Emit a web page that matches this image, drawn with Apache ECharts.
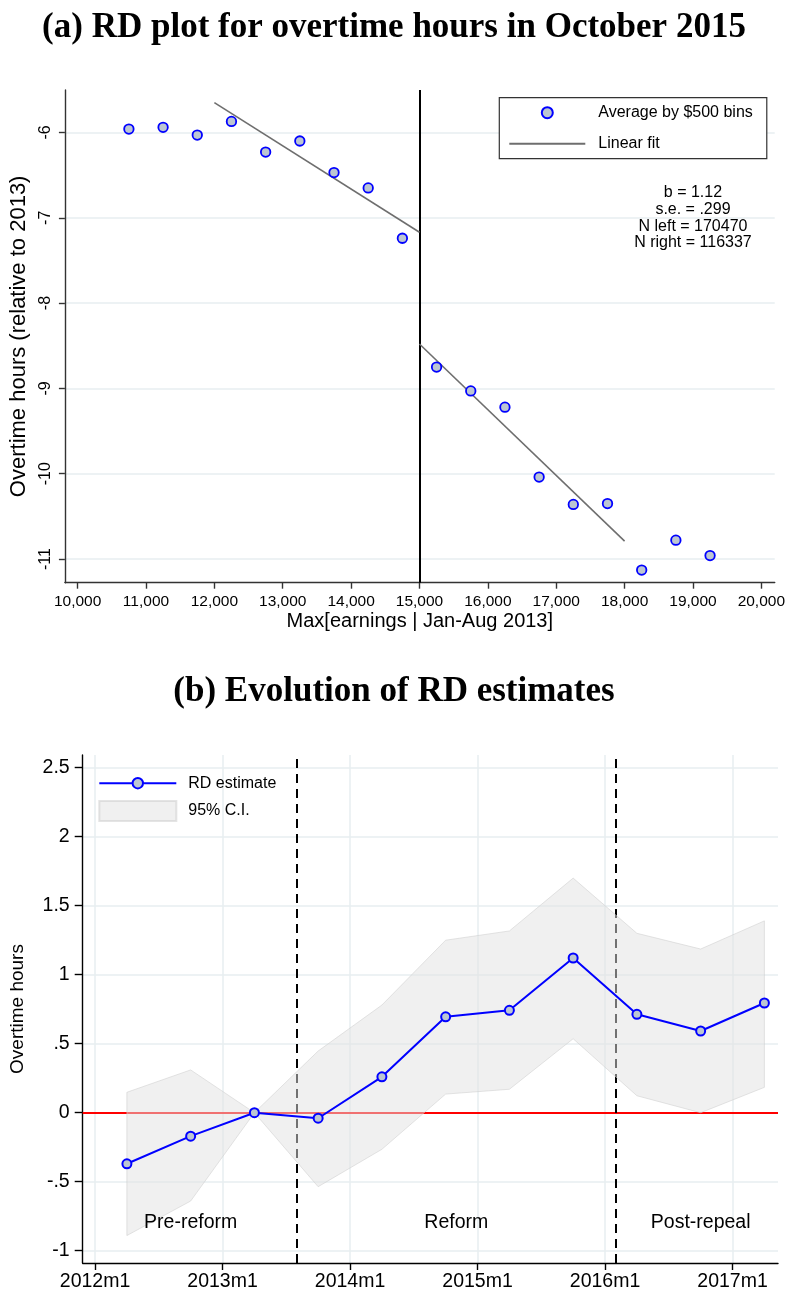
<!DOCTYPE html>
<html>
<head>
<meta charset="utf-8">
<script src="https://cdn.jsdelivr.net/npm/echarts@6/dist/echarts.min.js"></script>
<style>
  html, body { margin: 0; padding: 0; background: #fff; }
  #chart { width: 788px; height: 1293px; }
</style>
</head>
<body>
<div id="chart"></div>
<script>
// ---- Panel (a): binned averages around the 15,000 threshold ----
const binCenters = [10750, 11250, 11750, 12250, 12750, 13250, 13750, 14250, 14750,
                    15250, 15750, 16250, 16750, 17250, 17750, 18250, 18750, 19250];
const binMeans = [-5.96, -5.94, -6.03, -5.87, -6.23, -6.10, -6.47, -6.65, -7.24,
                  -8.75, -9.03, -9.22, -10.04, -10.36, -10.35, -11.13, -10.78, -10.96];
const fitLeftX = [12000, 15000];
const fitLeftY = [-5.65, -7.17];
const fitRightX = [15000, 18000];
const fitRightY = [-8.48, -10.79];
const threshold = 15000;
const earningsTicks = [10000, 11000, 12000, 13000, 14000, 15000, 16000, 17000, 18000, 19000, 20000];
const overtimeTicksA = [-11, -10, -9, -8, -7, -6];
const statLines = ['b = 1.12', 's.e. = .299', 'N left = 170470', 'N right = 116337'];
const statAnchor = [19000, -7];

// ---- Panel (b): RD estimates by half-year (months counted from 2012m1) ----
const periodMonths = [3, 9, 15, 21, 27, 33, 39, 45, 51, 57, 63];
const rdEstimate = [-0.37, -0.17, 0.00, -0.04, 0.26, 0.695, 0.742, 1.121, 0.713, 0.592, 0.795];
const ciUpper = [0.148, 0.31, 0.00, 0.447, 0.78, 1.25, 1.317, 1.70, 1.30, 1.186, 1.39];
const ciLower = [-0.89, -0.64, 0.00, -0.536, -0.265, 0.135, 0.17, 0.536, 0.123, 0.00, 0.184];
const yearTickMonths = [0, 12, 24, 36, 48, 60];
const overtimeTicksB = [-1, -0.5, 0, 0.5, 1, 1.5, 2, 2.5];
const policyBreaks = [19, 49];
const regionNames = ['Pre-reform', 'Reform', 'Post-repeal'];
const regionMonths = [9, 34, 57];
const regionLevel = -0.8;

const SANS = "'Liberation Sans', Arial, sans-serif";
const SERIF = "'Liberation Serif', 'Times New Roman', serif";
const GRID_COLOR = '#e7eef1';
const MARKER_FILL = '#bcc6d2';
const BAND_FILL = 'rgba(226,226,226,0.5)';
const BAND_EDGE = 'rgba(205,205,205,0.55)';

const chart = echarts.init(document.getElementById('chart'), null, { renderer: 'canvas' });

const formatDot = v => String(v).replace(/^(-?)0\./, '$1.');

// Plain text placed at data coordinates
function textAt(points, texts, fontSize, lineHeight) {
  return (params, api) => {
    const i = params.dataIndex;
    const p = api.coord(points[i]);
    return { type: 'text', x: p[0], y: p[1], silent: true,
      style: { text: texts[i], fill: '#000', fontFamily: SANS, fontSize: fontSize,
        lineHeight: lineHeight, align: 'center', verticalAlign: 'middle' } };
  };
}

const regionPoints = regionNames.map((n, i) => [regionMonths[i], regionLevel]);

const option = {
  backgroundColor: '#fff',
  animation: false,
  title: [
    { text: '(a) RD plot for overtime hours in October 2015', left: 'center', top: 5,
      textStyle: { fontFamily: SERIF, fontWeight: 'bold', fontSize: 35, color: '#000' } },
    { text: '(b) Evolution of RD estimates', left: 'center', top: 669,
      textStyle: { fontFamily: SERIF, fontWeight: 'bold', fontSize: 35, color: '#000' } }
  ],
  grid: [
    { left: 62.7, right: 10, top: 90, height: 492.7 },
    { left: 82.7, right: 10, top: 755, height: 508 }
  ],
  legend: [
    { data: ['Average by $500 bins', { name: 'Linear fit', itemStyle: { opacity: 0 } }],
      orient: 'vertical', left: 499.3, top: 97.7,
      padding: [7, 14, 7, 9], itemWidth: 76, itemHeight: 11, itemGap: 15, selectedMode: false,
      backgroundColor: '#fff', borderColor: '#333', borderWidth: 1.2,
      textStyle: { fontFamily: SANS, fontSize: 16, color: '#000', padding: [0, 0, 0, 8] } },
    { data: ['RD estimate'], left: 98.3, top: 775.2, padding: 0,
      itemWidth: 77, itemHeight: 13, selectedMode: false,
      textStyle: { fontFamily: SANS, fontSize: 16, color: '#000', padding: [0, 0, 0, 7] } },
    { data: [{ name: '95% C.I.', icon: 'rect' }], left: 98.3, top: 800, padding: 0,
      itemWidth: 77, itemHeight: 20, selectedMode: false,
      textStyle: { fontFamily: SANS, fontSize: 16, color: '#000', padding: [0, 0, 0, 7] } }
  ],
  xAxis: [
    { gridIndex: 0, type: 'value', min: 9814, max: 20196,
      name: 'Max[earnings | Jan-Aug 2013]', nameLocation: 'middle', nameGap: 29,
      nameTextStyle: { fontFamily: SANS, fontSize: 20, color: '#000' },
      axisLine: { onZero: false, lineStyle: { color: '#333', width: 1.4 } },
      axisTick: { customValues: earningsTicks, length: 6, lineStyle: { color: '#333', width: 1.4 } },
      axisLabel: { customValues: earningsTicks, margin: 11, fontFamily: SANS, fontSize: 15.5, color: '#000',
        formatter: v => v.toLocaleString('en-US') },
      splitLine: { show: false } },
    { gridIndex: 1, type: 'value', min: -1.16, max: 64.28,
      axisLine: { onZero: false, lineStyle: { color: '#000', width: 1.4 } },
      axisTick: { customValues: yearTickMonths, length: 7, lineStyle: { color: '#000', width: 1.4 } },
      axisLabel: { customValues: yearTickMonths, margin: 9, fontFamily: SANS, fontSize: 19.5, color: '#000',
        formatter: v => (2012 + Math.round(v / 12)) + 'm1' },
      splitLine: { show: true, lineStyle: { color: GRID_COLOR, width: 1.5 } } }
  ],
  yAxis: [
    { gridIndex: 0, type: 'value', min: -11.278, max: -5.502,
      name: 'Overtime hours (relative to 2013)', nameLocation: 'middle', nameGap: 34,
      nameTextStyle: { fontFamily: SANS, fontSize: 22, color: '#000' },
      axisLine: { show: true, onZero: false, lineStyle: { color: '#333', width: 1.4 } },
      axisTick: { show: true, customValues: overtimeTicksA, length: 6, lineStyle: { color: '#333', width: 1.4 } },
      axisLabel: { customValues: overtimeTicksA, rotate: 90, margin: 11, fontFamily: SANS, fontSize: 16, color: '#000' },
      splitLine: { show: true, lineStyle: { color: GRID_COLOR, width: 1.5 } } },
    { gridIndex: 1, type: 'value', min: -1.089, max: 2.592,
      name: 'Overtime hours', nameLocation: 'middle', nameGap: 55,
      nameTextStyle: { fontFamily: SANS, fontSize: 19, color: '#000' },
      axisLine: { show: true, onZero: false, lineStyle: { color: '#000', width: 1.4 } },
      axisTick: { show: true, customValues: overtimeTicksB, length: 8, lineStyle: { color: '#000', width: 1.4 } },
      axisLabel: { customValues: overtimeTicksB, margin: 13, fontFamily: SANS, fontSize: 19.5, color: '#000',
        formatter: formatDot },
      splitLine: { show: true, lineStyle: { color: GRID_COLOR, width: 1.5 } } }
  ],
  series: [
    // panel (a)
    { name: 'Linear fit', type: 'line', xAxisIndex: 0, yAxisIndex: 0, z: 3,
      data: fitLeftX.map((x, i) => [x, fitLeftY[i]]), symbol: 'none',
      itemStyle: { color: '#6e6e6e' }, lineStyle: { color: '#6e6e6e', width: 1.6 } },
    { name: 'Linear fit', type: 'line', xAxisIndex: 0, yAxisIndex: 0, z: 3,
      data: fitRightX.map((x, i) => [x, fitRightY[i]]), symbol: 'none',
      itemStyle: { color: '#6e6e6e' }, lineStyle: { color: '#6e6e6e', width: 1.6 } },
    { name: 'Average by $500 bins', type: 'scatter', xAxisIndex: 0, yAxisIndex: 0, z: 4,
      data: binCenters.map((x, i) => [x, binMeans[i]]),
      symbol: 'circle', symbolSize: 9.5,
      itemStyle: { color: MARKER_FILL, borderColor: '#0000ff', borderWidth: 1.8, opacity: 1 },
      markLine: { silent: true, symbol: 'none', z: 2, label: { show: false },
        lineStyle: { color: '#000', width: 2, type: 'solid' },
        data: [{ xAxis: threshold }] } },
    { name: 'stats', type: 'custom', xAxisIndex: 0, yAxisIndex: 0, silent: true, z: 5,
      data: [statAnchor],
      renderItem: textAt([statAnchor], [statLines.join('\n')], 16, 16.7) },

    // panel (b)
    { name: 'reference lines', type: 'line', xAxisIndex: 1, yAxisIndex: 1, data: [], silent: true,
      markLine: { silent: true, symbol: 'none', z: 1, label: { show: false },
        data: [
          { yAxis: 0, lineStyle: { color: '#ff0000', width: 2, type: 'solid' } },
          ...policyBreaks.map(m => ({ xAxis: m, lineStyle: { color: '#000', width: 2, type: [9, 6] } }))
        ] } },
    { name: '95% C.I.', type: 'custom', xAxisIndex: 1, yAxisIndex: 1, z: 2, silent: true,
      data: periodMonths.map((m, i) => [m, ciLower[i], ciUpper[i]]),
      itemStyle: { color: BAND_FILL, borderColor: BAND_EDGE, borderWidth: 1 },
      renderItem: (params, api) => {
        if (params.dataIndex !== 0) return null;
        const pts = [];
        periodMonths.forEach((m, i) => pts.push(api.coord([m, ciUpper[i]])));
        for (let i = periodMonths.length - 1; i >= 0; i--) pts.push(api.coord([periodMonths[i], ciLower[i]]));
        return { type: 'polygon', shape: { points: pts },
          style: { fill: BAND_FILL, stroke: BAND_EDGE, lineWidth: 1 } };
      } },
    { name: 'RD estimate', type: 'line', xAxisIndex: 1, yAxisIndex: 1, z: 4,
      data: periodMonths.map((m, i) => [m, rdEstimate[i]]),
      symbol: 'circle', symbolSize: 9, showAllSymbol: true,
      itemStyle: { color: MARKER_FILL, borderColor: '#0000ff', borderWidth: 2 },
      lineStyle: { color: '#0000ff', width: 2 } },
    { name: 'regions', type: 'custom', xAxisIndex: 1, yAxisIndex: 1, silent: true, z: 5,
      data: regionPoints,
      renderItem: textAt(regionPoints, regionNames, 19.5, 22) }
  ]
};

chart.setOption(option);
</script>
</body>
</html>
